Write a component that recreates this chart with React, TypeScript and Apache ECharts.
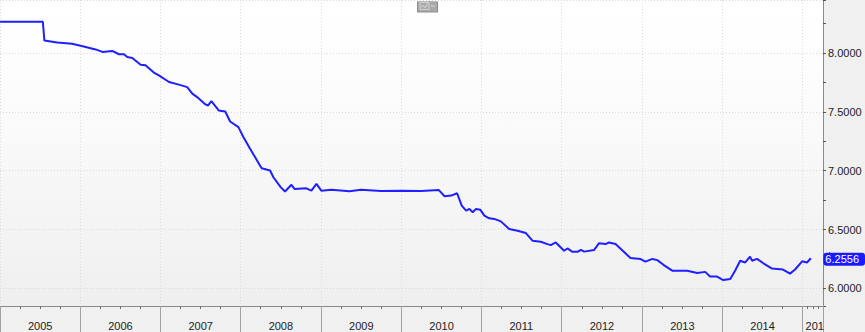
import React, { useEffect, useRef } from 'react';
import * as echarts from 'echarts';

// USD/CNY spot
const dates: string[] = [
  '2005-01-01', '2005-07-15', '2005-07-22', '2005-09-18', '2005-11-25',
  '2006-01-12', '2006-03-12', '2006-04-12', '2006-05-27', '2006-06-26',
  '2006-07-19', '2006-08-03', '2006-08-26', '2006-10-03', '2006-10-25',
  '2006-12-02', '2006-12-25', '2007-02-09', '2007-03-26', '2007-05-03',
  '2007-05-26', '2007-06-17', '2007-07-25', '2007-08-06', '2007-08-21',
  '2007-09-23', '2007-10-23', '2007-11-14', '2007-12-22', '2008-01-14',
  '2008-02-13', '2008-03-07', '2008-03-29', '2008-04-06', '2008-05-14',
  '2008-05-29', '2008-07-01', '2008-07-21', '2008-08-19', '2008-09-02',
  '2008-10-26', '2008-11-18', '2008-12-11', '2009-01-02', '2009-02-17',
  '2009-05-10', '2009-07-02', '2009-10-01', '2010-01-01', '2010-04-01',
  '2010-06-21', '2010-07-17', '2010-08-16', '2010-09-12', '2010-10-03',
  '2010-10-23', '2010-11-07', '2010-11-22', '2010-12-07', '2010-12-27',
  '2011-01-14', '2011-02-05', '2011-02-28', '2011-03-30', '2011-05-07',
  '2011-06-14', '2011-07-22', '2011-08-21', '2011-09-28', '2011-10-28',
  '2011-11-12', '2011-12-05', '2012-01-12', '2012-01-27', '2012-02-19',
  '2012-03-13', '2012-03-28', '2012-04-12', '2012-05-27', '2012-06-19',
  '2012-07-19', '2012-08-03', '2012-09-02', '2012-10-18', '2012-11-09',
  '2012-12-25', '2013-01-16', '2013-02-17', '2013-03-11', '2013-04-08',
  '2013-05-18', '2013-07-25', '2013-09-09', '2013-10-15', '2013-11-06',
  '2013-12-08', '2014-01-05', '2014-02-06', '2014-02-28', '2014-03-23',
  '2014-04-15', '2014-05-07', '2014-05-16', '2014-06-08', '2014-07-05',
  '2014-08-15', '2014-10-04', '2014-11-05', '2014-11-28', '2014-12-30',
  '2015-01-21', '2015-02-08',
];

const rates: number[] = [
  8.265, 8.265, 8.105, 8.088, 8.078,
  8.057, 8.03, 8.009, 8.017, 7.989,
  7.99, 7.966, 7.958, 7.90, 7.895,
  7.833, 7.81, 7.753, 7.731, 7.71,
  7.654, 7.625, 7.563, 7.554, 7.59,
  7.512, 7.503, 7.418, 7.37, 7.284,
  7.186, 7.114, 7.043, 7.02, 7.001,
  6.944, 6.86, 6.823, 6.88, 6.845,
  6.85, 6.83, 6.887, 6.83, 6.838,
  6.825, 6.838, 6.828, 6.83, 6.828,
  6.835, 6.783, 6.788, 6.808, 6.703,
  6.66, 6.675, 6.646, 6.675, 6.667,
  6.618, 6.595, 6.59, 6.569, 6.504,
  6.49, 6.47, 6.405, 6.396, 6.376,
  6.367, 6.39, 6.319, 6.339, 6.31,
  6.31, 6.327, 6.312, 6.325, 6.384,
  6.376, 6.39, 6.376, 6.296, 6.257,
  6.249, 6.227, 6.25, 6.24, 6.20,
  6.15, 6.15, 6.13, 6.14, 6.10,
  6.10, 6.07, 6.08, 6.15, 6.235,
  6.22, 6.27, 6.235, 6.25, 6.215,
  6.168, 6.16, 6.125, 6.16, 6.23,
  6.22, 6.2556,
];

const lastQuote = 6.2556;
const yearLabels: string[] = ['2005', '2006', '2007', '2008', '2009', '2010', '2011', '2012', '2013', '2014', '201'];
const xStart = '2005-01-01';
const xEnd = '2015-04-04';
const yMin = 5.85;
const yMax = 8.45;

const FONT = '"Liberation Sans", Arial, sans-serif';
const QUOTE_BLUE = '#1a1aff';

export default function App() {
  const ref = useRef<HTMLDivElement>(null);

  useEffect(() => {
    document.body.style.margin = '0';
    if (!ref.current) return;
    const chart = echarts.init(ref.current, undefined, { renderer: 'svg' });
    const data = dates.map((d, i) => [d, rates[i]]);

    chart.setOption({
      animation: false,
      backgroundColor: '#f0f0f0',
      grid: {
        left: -3,
        right: 42,
        top: 0,
        bottom: 26,
        show: true,
        borderWidth: 0,
        backgroundColor: {
          type: 'linear', x: 0, y: 0, x2: 0, y2: 1,
          colorStops: [
            { offset: 0, color: '#ffffff' },
            { offset: 0.3, color: '#fcfcfc' },
            { offset: 1, color: '#efefef' },
          ],
        },
      },
      xAxis: {
        type: 'time',
        min: xStart,
        max: xEnd,
        splitNumber: 10,
        axisLine: { show: true, lineStyle: { color: '#8a8a8a', width: 1 } },
        axisTick: { show: true, length: 27, lineStyle: { color: '#a0a0a0' } },
        minorTick: { show: true, splitNumber: 4, length: 3, lineStyle: { color: '#707070' } },
        splitLine: { show: true, lineStyle: { color: '#dddddd', type: [1, 2] } },
        axisLabel: {
          show: true,
          align: 'left',
          margin: 14,
          showMaxLabel: false,
          hideOverlap: false,
          color: '#222',
          fontFamily: FONT,
          fontSize: 11,
          formatter: (v: number) => {
            const y = new Date(v).getFullYear();
            const lbl = yearLabels[y - 2005];
            if (lbl === undefined) return '';
            return y === 2015 ? `{e|${lbl}}` : `{n|${lbl}}`;
          },
          rich: {
            n: { padding: [0, 0, 0, 28], color: '#222', fontFamily: FONT, fontSize: 11 },
            e: { padding: [0, 0, 0, 3], color: '#222', fontFamily: FONT, fontSize: 11 },
          },
        },
      },
      yAxis: {
        type: 'value',
        position: 'right',
        min: yMin,
        max: yMax,
        splitNumber: 5,
        axisLine: { show: true, lineStyle: { color: '#8a8a8a' } },
        axisTick: { show: true, length: 3, lineStyle: { color: '#555' } },
        minorTick: { show: true, splitNumber: 2, length: 3, lineStyle: { color: '#555' } },
        splitLine: { show: true, lineStyle: { color: '#dadada', type: [1, 2] } },
        axisLabel: {
          margin: 5,
          showMinLabel: false,
          showMaxLabel: false,
          color: '#222',
          fontFamily: FONT,
          fontSize: 11,
          formatter: (v: number) => v.toFixed(4),
        },
        axisPointer: {
          show: true,
          type: 'none',
          value: lastQuote,
          status: 'show',
          triggerTooltip: false,
          label: {
            show: true,
            margin: 7,
            backgroundColor: QUOTE_BLUE,
            color: '#ffffff',
            padding: [0, 6, 0, 2],
            lineHeight: 13,
            fontFamily: FONT,
            fontSize: 11,
            formatter: (p: any) => Number(p.value).toFixed(4),
          },
        },
      },
      series: [
        {
          type: 'line',
          data,
          showSymbol: false,
          symbol: 'none',
          lineStyle: { color: '#1f1fff', width: 2 },
          z: 5,
        },
      ],
      graphic: [
        {
          type: 'group',
          left: 417,
          top: 0,
          children: [
            { type: 'rect', shape: { x: 0, y: 0, width: 21, height: 11 }, style: { fill: '#8c8c8c' } },
            { type: 'rect', shape: { x: 1, y: 0, width: 19, height: 10 }, style: { fill: '#a9a9a9' } },
            { type: 'rect', shape: { x: 3, y: 1, width: 9, height: 7 }, style: { fill: 'none', stroke: '#d0d0d0', lineWidth: 1 } },
            { type: 'polyline', shape: { points: [[4, 6], [6, 4], [8, 6], [11, 2]] }, style: { stroke: '#e0e0e0', lineWidth: 1, fill: 'none' } },
            { type: 'rect', shape: { x: 14, y: 4, width: 4, height: 1 }, style: { fill: '#dcdcdc' } },
          ],
        },
      ],
    });

    // arrow tip of the last-quote tag, placed through the axes' own scales
    const yPx = chart.convertToPixel({ yAxisIndex: 0 }, lastQuote) as number;
    const xPx = chart.convertToPixel({ xAxisIndex: 0 }, xEnd) as number;
    chart.setOption({
      graphic: [
        {
          id: 'quoteArrow',
          type: 'polygon',
          shape: { points: [[xPx + 0.5, yPx], [xPx + 7, yPx - 6.5], [xPx + 7, yPx + 6.5]] },
          style: { fill: QUOTE_BLUE },
          z: 1,
        },
      ],
    });

    return () => chart.dispose();
  }, []);

  return <div ref={ref} style={{ width: 865, height: 332, background: '#f0f0f0' }} />;
}
